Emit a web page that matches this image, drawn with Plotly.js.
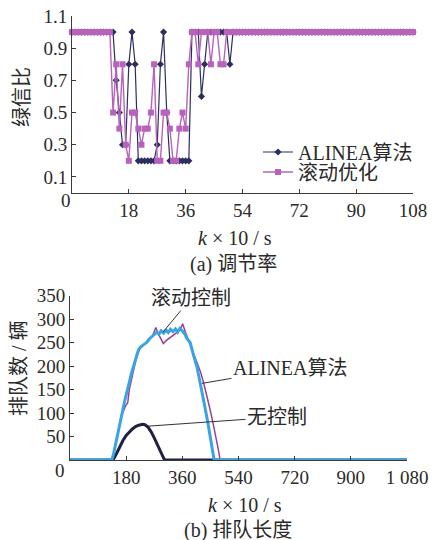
<!DOCTYPE html>
<html>
<head>
<meta charset="utf-8">
<script src="https://cdn.plot.ly/plotly-3.0.1.min.js"></script>
<style>html,body{margin:0;padding:0;background:#fff;}#chart{width:435px;height:540px;}</style>
</head>
<body>
<div id="chart"></div>
<script>
// ---------- (a) 调节率: green split ratio per step k (k = 0..108) ----------
const topXTicks = [18, 36, 54, 72, 90, 108];
const topYTicks = [0.1, 0.3, 0.5, 0.7, 0.9, 1.1];
const alineaRatio = [
  1,1,1,1,1,1,1,1,1,1,
  1,1,1,1,0.7,0.5,0.3,0.3,0.8,1,
  0.8,0.2,0.2,0.2,0.2,0.2,0.2,0.3,0.8,1,
  0.5,0.2,0.2,0.2,0.2,0.2,0.2,0.2,1,1,
  1,0.6,0.8,1,1,1,1,1,1,1,
  0.8,1,1,1,1,1,1,1,1,1,
  1,1,1,1,1,1,1,1,1,1,
  1,1,1,1,1,1,1,1,1,1,
  1,1,1,1,1,1,1,1,1,1,
  1,1,1,1,1,1,1,1,1,1,
  1,1,1,1,1,1,1,1,1
];
const rollingRatio = [
  1,1,1,1,1,1,1,1,1,1,
  1,1,1,0.5,0.8,0.4,0.8,0.3,0.2,0.5,
  0.5,0.4,0.3,0.4,0.4,0.5,0.8,0.2,0.2,0.5,
  0.5,0.4,0.2,0.2,0.4,0.5,0.4,0.8,1,1,
  0.8,1,1,1,0.8,1,1,0.8,0.8,1,
  1,1,1,1,1,1,1,1,1,1,
  1,1,1,1,1,1,1,1,1,1,
  1,1,1,1,1,1,1,1,1,1,
  1,1,1,1,1,1,1,1,1,1,
  1,1,1,1,1,1,1,1,1,1,
  1,1,1,1,1,1,1,1,1
];
const kTop = alineaRatio.map((_, i) => i);

// ---------- (b) 排队长度: queue length ----------
const botXTicks = [180, 360, 540, 720, 900, 1080];
const botXTickText = ['180', '360', '540', '720', '900', '1 080'];
const botYTicks = [50, 100, 150, 200, 250, 300, 350];
const kRolling = [0,134,140,145,150,155,160,166,170,175,180,185,190,195,203,208,215,220,225,235,246,255,265,278,285,292,300,308,315,322,330,338,345,352,361,368,375,385,395,406,414,422,429,436,443,449,456,462,1080];
const qRolling = [0,0,14,30,50,62,80,100,108,125,138,150,165,180,200,212,225,235,240,245,250,258,265,272,268,275,270,276,271,278,273,279,272,280,274,268,258,250,225,200,175,150,125,100,75,50,25,0,0];
const kAlinea = [0,136,145,150,158,165,172,178,185,190,196,200,210,222,235,250,265,275,282,290,299,310,325,340,355,361,370,380,390,400,410,418,428,438,448,458,468,476,481,1080];
const qAlinea = [0,0,30,45,70,95,105,115,122,150,168,180,210,235,245,255,265,282,270,258,248,255,262,270,280,290,272,255,238,220,200,188,165,140,110,80,50,20,0,0];
const kNone = [0,138,150,160,170,180,190,200,210,220,233,240,250,260,270,280,290,300,304,1080];
const qNone = [0,0,15,30,42,52,60,66,71,74,76,75,70,60,47,32,17,4,0,0];

const W = 435, H = 540;
const fx = x => x / W, fy = y => 1 - y / H;
const FONT = 'Liberation Serif, Noto Sans CJK SC, serif';
const TXT = '#2a2a2a';
const NAVY = '#2c2f5e', PINK = '#b862bd';
const BLUE = '#3aa3e4', PURPLE = '#9c3f96', BLACK = '#1f2142';

const traces = [
  {x: kTop, y: alineaRatio, xaxis: 'x', yaxis: 'y', mode: 'lines+markers', name: 'ALINEA算法',
   line: {color: NAVY, width: 1.2}, marker: {symbol: 'diamond', size: 5.5, color: NAVY},
   cliponaxis: false, legend: 'legend'},
  {x: kTop, y: rollingRatio, xaxis: 'x', yaxis: 'y', mode: 'lines+markers', name: '滚动优化',
   line: {color: PINK, width: 1.4}, marker: {symbol: 'square', size: 6, color: PINK},
   cliponaxis: false, legend: 'legend2'},
  {x: kNone, y: qNone, xaxis: 'x2', yaxis: 'y2', mode: 'lines', name: '无控制',
   line: {color: BLACK, width: 3}, showlegend: false},
  {x: kAlinea, y: qAlinea, xaxis: 'x2', yaxis: 'y2', mode: 'lines', name: 'ALINEA算法',
   line: {color: PURPLE, width: 1.5}, showlegend: false},
  {x: kRolling, y: qRolling, xaxis: 'x2', yaxis: 'y2', mode: 'lines', name: '滚动控制',
   line: {color: BLUE, width: 3}, showlegend: false}
];

const axisCommon = {
  showgrid: false, zeroline: false, showline: true, linecolor: '#3a3a3a', linewidth: 1,
  ticks: 'inside', ticklen: 4, tickcolor: '#3a3a3a', tickwidth: 1,
  tickfont: {family: FONT, size: 19, color: TXT}, fixedrange: true
};

const ann = (text, x, y, extra) => Object.assign({
  text: text, x: fx(x), y: fy(y), xref: 'paper', yref: 'paper', showarrow: false,
  font: {family: FONT, size: 20, color: TXT}, xanchor: 'center', yanchor: 'middle'
}, extra || {});

const layout = {
  width: W, height: H, margin: {l: 0, r: 0, t: 0, b: 0},
  font: {family: FONT, color: TXT},
  paper_bgcolor: '#fff', plot_bgcolor: 'rgba(0,0,0,0)',
  xaxis: Object.assign({}, axisCommon, {domain: [fx(72), fx(413)], range: [0, 108], anchor: 'y', tickvals: topXTicks}),
  yaxis: Object.assign({}, axisCommon, {domain: [fy(193), fy(16)], range: [0, 1.1], anchor: 'x', tickvals: topYTicks, ticktext: topYTicks.map(String)}),
  xaxis2: Object.assign({}, axisCommon, {domain: [fx(70), fx(407)], range: [0, 1080], anchor: 'y2', tickvals: botXTicks, ticktext: botXTickText}),
  yaxis2: Object.assign({}, axisCommon, {domain: [fy(460), fy(295.5)], range: [0, 350], anchor: 'x2', tickvals: botYTicks}),
  legend: {x: fx(258), y: fy(152), xanchor: 'left', yanchor: 'middle', bgcolor: 'rgba(0,0,0,0)',
           font: {family: FONT, size: 20, color: TXT}},
  legend2: {x: fx(258), y: fy(172), xanchor: 'left', yanchor: 'middle', bgcolor: 'rgba(0,0,0,0)',
           font: {family: FONT, size: 20, color: TXT}},
  annotations: [
    ann('0', 66, 200, {font: {family: FONT, size: 19, color: TXT}}),
    ann('绿信比', 22, 97, {textangle: -90}),
    ann('<i>k</i> × 10 / s', 235, 238),
    ann('(a) 调节率', 233, 264),
    ann('0', 60, 470, {font: {family: FONT, size: 19, color: TXT}}),
    ann('排队数 / 辆', 19, 368, {textangle: -90}),
    ann('<i>k</i> × 10 / s', 245, 505),
    ann('(b) 排队长度', 238, 530),
    {text: '滚动控制', xref: 'x2', yref: 'y2', x: 298, y: 272, ax: 28, ay: -34, showarrow: true,
     arrowhead: 0, arrowwidth: 1, arrowcolor: '#333', font: {family: FONT, size: 20, color: TXT}},
    {text: 'ALINEA算法', xref: 'x2', yref: 'y2', x: 423, y: 163, ax: 88, ay: -15, showarrow: true,
     arrowhead: 0, arrowwidth: 1, arrowcolor: '#333', font: {family: FONT, size: 20, color: TXT}},
    {text: '无控制', xref: 'x2', yref: 'y2', x: 250, y: 72, ax: 129, ay: -9, showarrow: true,
     arrowhead: 0, arrowwidth: 1, arrowcolor: '#333', font: {family: FONT, size: 20, color: TXT}}
  ]
};

Plotly.newPlot('chart', traces, layout, {staticPlot: true, displayModeBar: false});
</script>
</body>
</html>
